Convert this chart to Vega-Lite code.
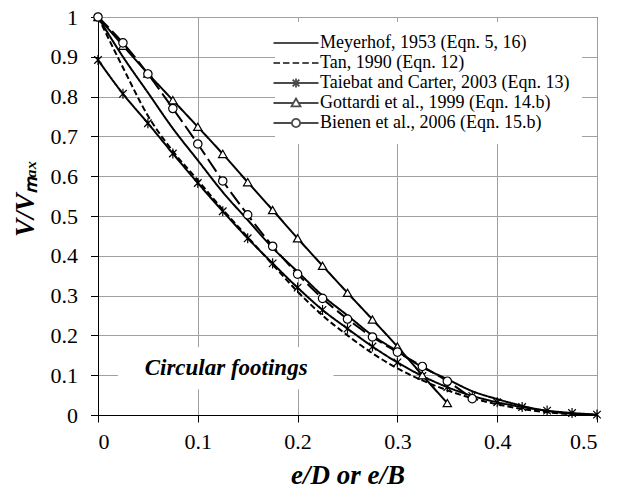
{
  "$schema": "https://vega.github.io/schema/vega-lite/v6.json",
  "width": 499,
  "height": 398,
  "autosize": {"type": "none"},
  "padding": {"left": 98, "top": 17, "right": 25, "bottom": 74},
  "background": "white",
  "config": {
    "font": "Liberation Serif, Times New Roman, serif",
    "view": {"stroke": "black", "strokeWidth": 1},
    "axis": {
      "grid": true, "gridColor": "#a0a0a0", "gridWidth": 1,
      "domainColor": "black", "tickColor": "black",
      "labelFont": "Liberation Serif, Times New Roman, serif", "labelFontSize": 22, "labelColor": "black",
      "titleFont": "Liberation Serif, Times New Roman, serif", "titleFontSize": 27,
      "titleFontWeight": "bold", "titleFontStyle": "italic", "titleColor": "black"
    },
    "axisX": {"tickSize": 7, "labelPadding": 9, "titleY": 68, "titleBaseline": "alphabetic"},
    "axisY": {"tickSize": 7.5, "labelPadding": 13, "titleX": -65, "titleY": 181, "titleAngle": -90, "titleAlign": "center", "titleBaseline": "alphabetic"}
  },
  "datasets": {
    "note": [
      {"e": 0.1284, "v": 0.1, "e0": 0.02, "e1": 0.236, "v0": 0.065, "v1": 0.17, "label": "Circular footings"}
    ],
    "curves": [
      {"series": "Meyerhof, 1953 (Eqn. 5, 16)", "e": 0.0, "v": 1.0},
      {"series": "Meyerhof, 1953 (Eqn. 5, 16)", "e": 0.025, "v": 0.9},
      {"series": "Meyerhof, 1953 (Eqn. 5, 16)", "e": 0.05, "v": 0.81},
      {"series": "Meyerhof, 1953 (Eqn. 5, 16)", "e": 0.075, "v": 0.72},
      {"series": "Meyerhof, 1953 (Eqn. 5, 16)", "e": 0.1, "v": 0.64},
      {"series": "Meyerhof, 1953 (Eqn. 5, 16)", "e": 0.125, "v": 0.56},
      {"series": "Meyerhof, 1953 (Eqn. 5, 16)", "e": 0.15, "v": 0.49},
      {"series": "Meyerhof, 1953 (Eqn. 5, 16)", "e": 0.175, "v": 0.42},
      {"series": "Meyerhof, 1953 (Eqn. 5, 16)", "e": 0.2, "v": 0.36},
      {"series": "Meyerhof, 1953 (Eqn. 5, 16)", "e": 0.225, "v": 0.3},
      {"series": "Meyerhof, 1953 (Eqn. 5, 16)", "e": 0.25, "v": 0.25},
      {"series": "Meyerhof, 1953 (Eqn. 5, 16)", "e": 0.275, "v": 0.2},
      {"series": "Meyerhof, 1953 (Eqn. 5, 16)", "e": 0.3, "v": 0.16},
      {"series": "Meyerhof, 1953 (Eqn. 5, 16)", "e": 0.325, "v": 0.12},
      {"series": "Meyerhof, 1953 (Eqn. 5, 16)", "e": 0.35, "v": 0.09},
      {"series": "Meyerhof, 1953 (Eqn. 5, 16)", "e": 0.375, "v": 0.06},
      {"series": "Meyerhof, 1953 (Eqn. 5, 16)", "e": 0.4, "v": 0.04},
      {"series": "Meyerhof, 1953 (Eqn. 5, 16)", "e": 0.425, "v": 0.023},
      {"series": "Meyerhof, 1953 (Eqn. 5, 16)", "e": 0.45, "v": 0.01},
      {"series": "Meyerhof, 1953 (Eqn. 5, 16)", "e": 0.475, "v": 0.003},
      {"series": "Meyerhof, 1953 (Eqn. 5, 16)", "e": 0.5, "v": 0.0},
      {"series": "Tan, 1990 (Eqn. 12)", "e": 0.0, "v": 1.0},
      {"series": "Tan, 1990 (Eqn. 12)", "e": 0.025, "v": 0.873},
      {"series": "Tan, 1990 (Eqn. 12)", "e": 0.05, "v": 0.752},
      {"series": "Tan, 1990 (Eqn. 12)", "e": 0.075, "v": 0.663},
      {"series": "Tan, 1990 (Eqn. 12)", "e": 0.1, "v": 0.59},
      {"series": "Tan, 1990 (Eqn. 12)", "e": 0.125, "v": 0.516},
      {"series": "Tan, 1990 (Eqn. 12)", "e": 0.15, "v": 0.447},
      {"series": "Tan, 1990 (Eqn. 12)", "e": 0.175, "v": 0.378},
      {"series": "Tan, 1990 (Eqn. 12)", "e": 0.2, "v": 0.31},
      {"series": "Tan, 1990 (Eqn. 12)", "e": 0.225, "v": 0.25},
      {"series": "Tan, 1990 (Eqn. 12)", "e": 0.25, "v": 0.2},
      {"series": "Tan, 1990 (Eqn. 12)", "e": 0.275, "v": 0.155},
      {"series": "Tan, 1990 (Eqn. 12)", "e": 0.3, "v": 0.117},
      {"series": "Tan, 1990 (Eqn. 12)", "e": 0.325, "v": 0.087},
      {"series": "Tan, 1990 (Eqn. 12)", "e": 0.35, "v": 0.062},
      {"series": "Tan, 1990 (Eqn. 12)", "e": 0.375, "v": 0.042},
      {"series": "Tan, 1990 (Eqn. 12)", "e": 0.4, "v": 0.027},
      {"series": "Tan, 1990 (Eqn. 12)", "e": 0.425, "v": 0.015},
      {"series": "Tan, 1990 (Eqn. 12)", "e": 0.45, "v": 0.007},
      {"series": "Tan, 1990 (Eqn. 12)", "e": 0.475, "v": 0.002},
      {"series": "Tan, 1990 (Eqn. 12)", "e": 0.5, "v": 0.0},
      {"series": "Taiebat and Carter, 2003 (Eqn. 13)", "e": 0.0, "v": 0.892},
      {"series": "Taiebat and Carter, 2003 (Eqn. 13)", "e": 0.025, "v": 0.807},
      {"series": "Taiebat and Carter, 2003 (Eqn. 13)", "e": 0.05, "v": 0.733},
      {"series": "Taiebat and Carter, 2003 (Eqn. 13)", "e": 0.075, "v": 0.657},
      {"series": "Taiebat and Carter, 2003 (Eqn. 13)", "e": 0.1, "v": 0.583},
      {"series": "Taiebat and Carter, 2003 (Eqn. 13)", "e": 0.125, "v": 0.512},
      {"series": "Taiebat and Carter, 2003 (Eqn. 13)", "e": 0.15, "v": 0.444},
      {"series": "Taiebat and Carter, 2003 (Eqn. 13)", "e": 0.175, "v": 0.381},
      {"series": "Taiebat and Carter, 2003 (Eqn. 13)", "e": 0.2, "v": 0.32},
      {"series": "Taiebat and Carter, 2003 (Eqn. 13)", "e": 0.225, "v": 0.264},
      {"series": "Taiebat and Carter, 2003 (Eqn. 13)", "e": 0.25, "v": 0.217},
      {"series": "Taiebat and Carter, 2003 (Eqn. 13)", "e": 0.275, "v": 0.172},
      {"series": "Taiebat and Carter, 2003 (Eqn. 13)", "e": 0.3, "v": 0.132},
      {"series": "Taiebat and Carter, 2003 (Eqn. 13)", "e": 0.325, "v": 0.098},
      {"series": "Taiebat and Carter, 2003 (Eqn. 13)", "e": 0.35, "v": 0.07},
      {"series": "Taiebat and Carter, 2003 (Eqn. 13)", "e": 0.375, "v": 0.048},
      {"series": "Taiebat and Carter, 2003 (Eqn. 13)", "e": 0.4, "v": 0.032},
      {"series": "Taiebat and Carter, 2003 (Eqn. 13)", "e": 0.425, "v": 0.02},
      {"series": "Taiebat and Carter, 2003 (Eqn. 13)", "e": 0.45, "v": 0.011},
      {"series": "Taiebat and Carter, 2003 (Eqn. 13)", "e": 0.475, "v": 0.005},
      {"series": "Taiebat and Carter, 2003 (Eqn. 13)", "e": 0.5, "v": 0.001},
      {"series": "Gottardi et al., 1999 (Eqn. 14.b)", "e": 0.0, "v": 1.0},
      {"series": "Gottardi et al., 1999 (Eqn. 14.b)", "e": 0.025, "v": 0.928},
      {"series": "Gottardi et al., 1999 (Eqn. 14.b)", "e": 0.05, "v": 0.858},
      {"series": "Gottardi et al., 1999 (Eqn. 14.b)", "e": 0.075, "v": 0.791},
      {"series": "Gottardi et al., 1999 (Eqn. 14.b)", "e": 0.1, "v": 0.724},
      {"series": "Gottardi et al., 1999 (Eqn. 14.b)", "e": 0.125, "v": 0.656},
      {"series": "Gottardi et al., 1999 (Eqn. 14.b)", "e": 0.15, "v": 0.585},
      {"series": "Gottardi et al., 1999 (Eqn. 14.b)", "e": 0.175, "v": 0.515},
      {"series": "Gottardi et al., 1999 (Eqn. 14.b)", "e": 0.2, "v": 0.444},
      {"series": "Gottardi et al., 1999 (Eqn. 14.b)", "e": 0.225, "v": 0.375},
      {"series": "Gottardi et al., 1999 (Eqn. 14.b)", "e": 0.25, "v": 0.307},
      {"series": "Gottardi et al., 1999 (Eqn. 14.b)", "e": 0.275, "v": 0.24},
      {"series": "Gottardi et al., 1999 (Eqn. 14.b)", "e": 0.3, "v": 0.172},
      {"series": "Gottardi et al., 1999 (Eqn. 14.b)", "e": 0.325, "v": 0.1},
      {"series": "Gottardi et al., 1999 (Eqn. 14.b)", "e": 0.35, "v": 0.03},
      {"series": "Bienen et al., 2006 (Eqn. 15.b)", "e": 0.0, "v": 1.0},
      {"series": "Bienen et al., 2006 (Eqn. 15.b)", "e": 0.025, "v": 0.935},
      {"series": "Bienen et al., 2006 (Eqn. 15.b)", "e": 0.05, "v": 0.857},
      {"series": "Bienen et al., 2006 (Eqn. 15.b)", "e": 0.075, "v": 0.77},
      {"series": "Bienen et al., 2006 (Eqn. 15.b)", "e": 0.1, "v": 0.681},
      {"series": "Bienen et al., 2006 (Eqn. 15.b)", "e": 0.125, "v": 0.588},
      {"series": "Bienen et al., 2006 (Eqn. 15.b)", "e": 0.15, "v": 0.503},
      {"series": "Bienen et al., 2006 (Eqn. 15.b)", "e": 0.175, "v": 0.424},
      {"series": "Bienen et al., 2006 (Eqn. 15.b)", "e": 0.2, "v": 0.354},
      {"series": "Bienen et al., 2006 (Eqn. 15.b)", "e": 0.225, "v": 0.293},
      {"series": "Bienen et al., 2006 (Eqn. 15.b)", "e": 0.25, "v": 0.241},
      {"series": "Bienen et al., 2006 (Eqn. 15.b)", "e": 0.275, "v": 0.196},
      {"series": "Bienen et al., 2006 (Eqn. 15.b)", "e": 0.3, "v": 0.158},
      {"series": "Bienen et al., 2006 (Eqn. 15.b)", "e": 0.325, "v": 0.122},
      {"series": "Bienen et al., 2006 (Eqn. 15.b)", "e": 0.35, "v": 0.085},
      {"series": "Bienen et al., 2006 (Eqn. 15.b)", "e": 0.375, "v": 0.041}
    ]
  },
  "layer": [
    {
      "data": {"name": "note"},
      "mark": {"type": "rect", "fill": "white"},
      "encoding": {
        "x": {"field": "e0", "type": "quantitative", "scale": {"domain": [0, 0.5], "nice": false}, "axis": {"title": "e/D or e/B", "values": [0, 0.1, 0.2, 0.3, 0.4, 0.5], "format": "~g"}},
        "x2": {"field": "e1"},
        "y": {"field": "v0", "type": "quantitative", "scale": {"domain": [0, 1], "nice": false}, "axis": {"title": "V/Vₘₐₓ", "values": [0, 0.1, 0.2, 0.3, 0.4, 0.5, 0.6, 0.7, 0.8, 0.9, 1], "format": "~g"}},
        "y2": {"field": "v1"}
      }
    },
    {
      "data": {"name": "note"},
      "mark": {"type": "text", "font": "Liberation Serif, Times New Roman, serif", "fontSize": 23, "fontWeight": "bold", "fontStyle": "italic", "align": "center", "baseline": "alphabetic", "color": "black"},
      "encoding": {
        "x": {"field": "e", "type": "quantitative", "scale": {"domain": [0, 0.5], "nice": false}, "axis": {"title": "e/D or e/B", "values": [0, 0.1, 0.2, 0.3, 0.4, 0.5], "format": "~g"}},
        "y": {"field": "v", "type": "quantitative", "scale": {"domain": [0, 1], "nice": false}, "axis": {"title": "V/Vₘₐₓ", "values": [0, 0.1, 0.2, 0.3, 0.4, 0.5, 0.6, 0.7, 0.8, 0.9, 1], "format": "~g"}},
        "text": {"field": "label"}
      }
    },
    {
      "data": {"name": "curves"},
      "mark": {"type": "line", "color": "black", "strokeWidth": 2, "interpolate": "monotone"},
      "encoding": {
        "x": {"field": "e", "type": "quantitative", "scale": {"domain": [0, 0.5], "nice": false}, "axis": {"title": "e/D or e/B", "values": [0, 0.1, 0.2, 0.3, 0.4, 0.5], "format": "~g"}},
        "y": {"field": "v", "type": "quantitative", "scale": {"domain": [0, 1], "nice": false}, "axis": {"title": "V/Vₘₐₓ", "values": [0, 0.1, 0.2, 0.3, 0.4, 0.5, 0.6, 0.7, 0.8, 0.9, 1], "format": "~g"}},
        "strokeDash": {
          "field": "series", "type": "nominal",
          "scale": {
            "domain": ["Meyerhof, 1953 (Eqn. 5, 16)", "Tan, 1990 (Eqn. 12)", "Taiebat and Carter, 2003 (Eqn. 13)", "Gottardi et al., 1999 (Eqn. 14.b)", "Bienen et al., 2006 (Eqn. 15.b)"],
            "range": [[1, 0], [6, 3], [1, 0], [1, 0], [15, 5]]
          },
          "legend": null
        }
      }
    },
    {
      "data": {"name": "curves"},
      "transform": [{"filter": {"field": "series", "oneOf": ["Taiebat and Carter, 2003 (Eqn. 13)", "Gottardi et al., 1999 (Eqn. 14.b)", "Bienen et al., 2006 (Eqn. 15.b)"]}}],
      "mark": {"type": "point", "filled": true, "fill": "white", "stroke": "black", "strokeWidth": 1.2, "size": 70, "opacity": 1},
      "encoding": {
        "x": {"field": "e", "type": "quantitative", "scale": {"domain": [0, 0.5], "nice": false}, "axis": {"title": "e/D or e/B", "values": [0, 0.1, 0.2, 0.3, 0.4, 0.5], "format": "~g"}},
        "y": {"field": "v", "type": "quantitative", "scale": {"domain": [0, 1], "nice": false}, "axis": {"title": "V/Vₘₐₓ", "values": [0, 0.1, 0.2, 0.3, 0.4, 0.5, 0.6, 0.7, 0.8, 0.9, 1], "format": "~g"}},
        "shape": {
          "field": "series", "type": "nominal",
          "scale": {
            "domain": ["Taiebat and Carter, 2003 (Eqn. 13)", "Gottardi et al., 1999 (Eqn. 14.b)", "Bienen et al., 2006 (Eqn. 15.b)"],
            "range": ["M-0.9,-0.9L0.9,0.9M-0.9,0.9L0.9,-0.9M0,-1.2V1.2", "triangle-up", "circle"]
          },
          "legend": null
        }
      }
    },
    {
      "data": {"name": "curves"},
      "transform": [{"filter": "datum.e < 0"}],
      "mark": {"type": "point", "filled": false, "color": "black", "strokeWidth": 1.8},
      "encoding": {
        "x": {"field": "e", "type": "quantitative", "scale": {"domain": [0, 0.5], "nice": false}, "axis": {"title": "e/D or e/B", "values": [0, 0.1, 0.2, 0.3, 0.4, 0.5], "format": "~g"}},
        "y": {"field": "v", "type": "quantitative", "scale": {"domain": [0, 1], "nice": false}, "axis": {"title": "V/Vₘₐₓ", "values": [0, 0.1, 0.2, 0.3, 0.4, 0.5, 0.6, 0.7, 0.8, 0.9, 1], "format": "~g"}},
        "shape": {
          "field": "series", "type": "nominal",
          "scale": {
            "domain": ["Meyerhof, 1953 (Eqn. 5, 16)", "Tan, 1990 (Eqn. 12)", "Taiebat and Carter, 2003 (Eqn. 13)", "Gottardi et al., 1999 (Eqn. 14.b)", "Bienen et al., 2006 (Eqn. 15.b)"],
            "range": [
              "M-3,0H3",
              "M-3,0H-2.13M-1.73,0H-0.87M-0.45,0H0.42M0.84,0H1.71M2.13,0H3",
              "M-3,0H3M-0.45,-0.45L0.45,0.45M-0.45,0.45L0.45,-0.45M0,-0.6V0.6",
              "M-3,0H-0.34M0.34,0H3M0,-0.6L0.6,0.45L-0.6,0.45Z",
              "M-3,0H-0.55M0.55,0H3M0.55,0A0.55,0.55,0,1,1,-0.55,0A0.55,0.55,0,1,1,0.55,0Z"
            ]
          },
          "legend": {
            "title": null, "orient": "none", "legendX": 177, "legendY": 5,
            "symbolSize": 225, "symbolStrokeWidth": 1.8, "symbolStrokeColor": "black", "symbolFillColor": "white",
            "labelFont": "Liberation Serif, Times New Roman, serif", "labelFontSize": 18, "labelColor": "black",
            "labelOffset": 15, "labelLimit": 400, "rowPadding": 2, "padding": 12,
            "fillColor": "white"
          }
        }
      }
    }
  ],
  "resolve": {"scale": {"shape": "independent"}}
}
